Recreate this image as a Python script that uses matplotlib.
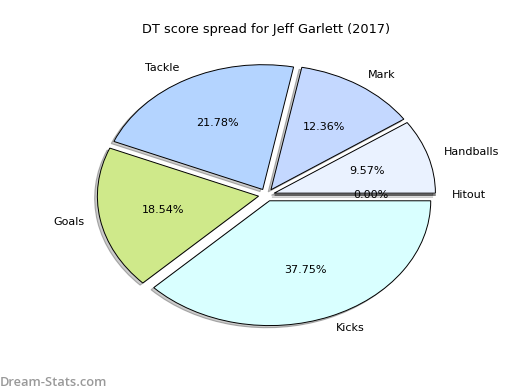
import matplotlib
matplotlib.use('Agg')
import matplotlib.pyplot as plt

# slices, in drawing order (counter-clockwise from 0 deg)
labels = ['Hitout', 'Handballs', 'Mark', 'Tackle', 'Goals', 'Kicks']
values = [0.00, 9.57, 12.36, 21.78, 18.54, 37.75]
colors = ['#e0e0ff', '#eaf2ff', '#c4d8ff', '#b4d4ff', '#cfe98a', '#d9ffff']
explode = [0.05] * len(values)

fig = plt.figure(figsize=(5.2, 3.9), dpi=100)
ax = fig.add_subplot(111)

wedges, texts, autotexts = ax.pie(values, labels=labels, colors=colors, explode=explode,
                                  autopct='%1.2f%%', startangle=0,
                                  shadow={'ox': -0.012, 'oy': -0.012, 'facecolor': '#999999',
                                          'edgecolor': '#666666', 'linewidth': 0.8},
                                  wedgeprops={'edgecolor': 'black', 'linewidth': 0.7},
                                  textprops={'fontsize': 8})
ax.set_aspect('auto')
ax.set_xlim(-1.25, 1.25)
ax.set_ylim(-1.25, 1.25)
ax.set_title('DT score spread for Jeff Garlett (2017)', fontsize=9.3, pad=4)

fig.subplots_adjust(left=0.125, right=0.9, bottom=0.1, top=0.9)
fig.text(0.0, 0.01, 'Dream-Stats.com', color='#999999', fontsize=9.3,
         family='Open Sans', weight='semibold')

fig.savefig('out.png', dpi=100)
